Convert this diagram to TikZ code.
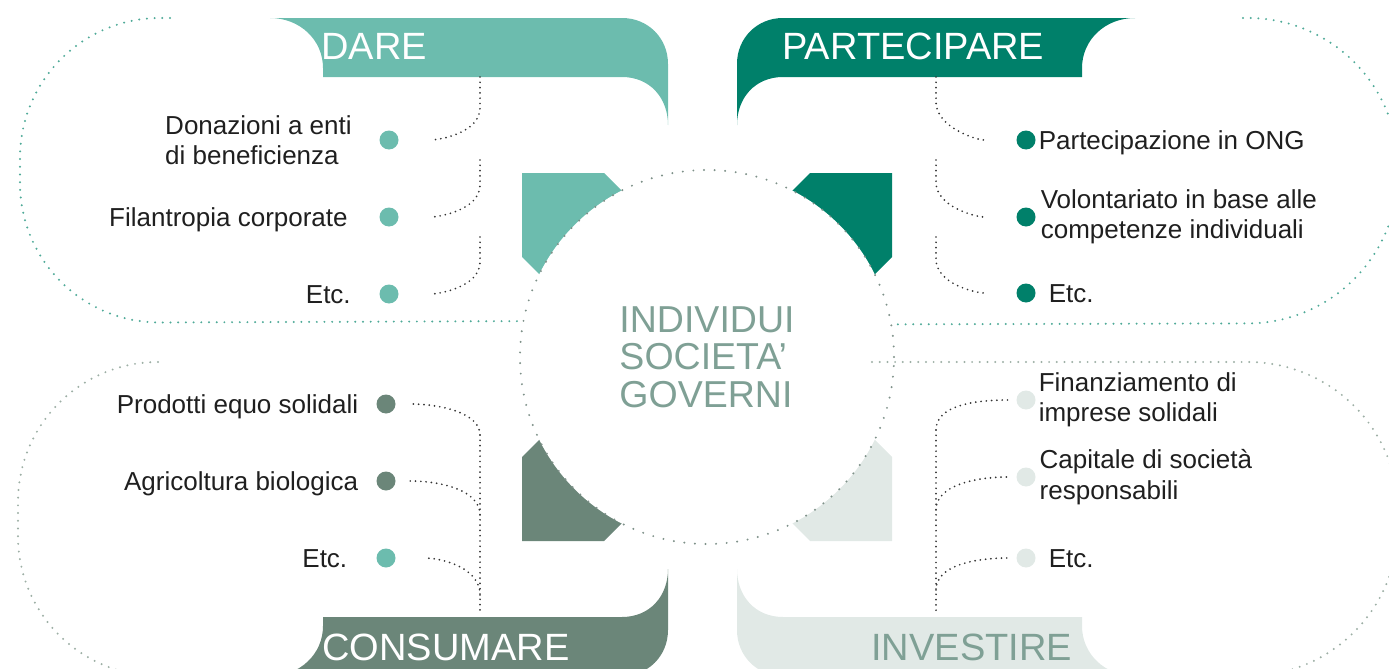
\documentclass[tikz,border=0pt]{standalone}
\usepackage{fontspec}
\setmainfont{Liberation Sans}
\usepackage{tikz}
\usetikzlibrary{positioning}
\definecolor{darec}{HTML}{6CBCAE}
\definecolor{partc}{HTML}{00806A}
\definecolor{consc}{HTML}{6B8679}
\definecolor{investc}{HTML}{E1E9E6}
\definecolor{coretextc}{HTML}{7FA095}
\definecolor{tealdotc}{HTML}{4FAA98}
\definecolor{graydotc}{HTML}{9DAFA5}
\definecolor{linkc}{HTML}{333333}
\colorlet{labelcolor}{black!88}
\definecolor{coreline}{HTML}{7E9189}
\tikzstyle{tabtitle} = [
    anchor=base west,
    inner sep=0pt,
    font=\fontsize{19pt}{19pt}\selectfont
    ]
\tikzstyle{core} = [
    circle,
    fill=white,
    draw=coreline,
    line width=1.1pt,
    dash pattern=on 0pt off 5.3pt,
    line cap=round,
    minimum size=187pt,
    inner sep=0pt,
    align=left,
    text=coretextc,
    font=\fontsize{18.75pt}{18.75pt}\selectfont
    ]
\tikzstyle{outline} = [line width=1.1pt, dash pattern=on 0pt off 3.85pt, line cap=round]
\tikzstyle{linkline} = [draw=linkc, line width=0.95pt, dash pattern=on 0pt off 2.65pt, line cap=round]
\tikzstyle{itemdot} = [circle, inner sep=0pt, minimum size=9.5pt]
\tikzstyle{itemlabel} = [inner sep=0pt, text=labelcolor, font=\fontsize{13pt}{15.25pt}\selectfont]
\tikzstyle{oneline} = [text height=9.3pt, text depth=0pt]

\begin{document}
\begin{tikzpicture}[x=0.5pt,y=-0.5pt]
\useasboundingbox (0,0) rectangle (1389,669);
\clip (0,0) rectangle (1389,669);

% corner pieces behind the core
\fill[darec] (522,173) -- (604,173) -- (664,233) -- (582,317) -- (522,257) -- cycle;
\fill[partc] (892,173) -- (810,173) -- (750,233) -- (832,317) -- (892,257) -- cycle;
\fill[consc] (522,541) -- (604,541) -- (664,481) -- (582,397) -- (522,457) -- cycle;
\fill[investc] (892,541) -- (810,541) -- (750,481) -- (832,397) -- (892,457) -- cycle;

\node[core] (core) at (707,357) {INDIVIDUI\\SOCIETA’\\GOVERNI};

% dotted frames
\draw[outline, draw=tealdotc, rounded corners=70pt] (170,18) -- (20,18) -- (20,323) -- (core.169.5);
\draw[outline, draw=tealdotc, rounded corners=75pt] (1243,18) -- (1398,18) -- (1398,323) -- (core.10.5);
\draw[outline, draw=graydotc, rounded corners=70pt] (158,362) -- (18,362) -- (18,676) -- (200,676);
\draw[outline, draw=graydotc, rounded corners=75pt] (872,362) -- (1398,362) -- (1398,676) -- (1200,676);

% tabs
\fill[darec] (270,18) -- (622,18) .. controls (648,18) and (668,38) .. (668,64) -- (668,125)
    .. controls (668,98) and (650,77) .. (622,77) -- (323,77) -- (323,68)
    .. controls (323,40) and (300,18) .. (270,18) -- cycle;
\fill[partc] (1135,18) -- (783,18) .. controls (757,18) and (737,38) .. (737,64) -- (737,125)
    .. controls (737,98) and (755,77) .. (783,77) -- (1082,77) -- (1082,68)
    .. controls (1082,40) and (1105,18) .. (1135,18) -- cycle;
\fill[consc] (270,676) -- (622,676) .. controls (648,676) and (668,656) .. (668,630) -- (668,569)
    .. controls (668,596) and (650,617) .. (622,617) -- (323,617) -- (323,626)
    .. controls (323,654) and (300,676) .. (270,676) -- cycle;
\fill[investc] (1135,676) -- (783,676) .. controls (757,676) and (737,656) .. (737,630) -- (737,569)
    .. controls (737,596) and (755,617) .. (783,617) -- (1082,617) -- (1082,626)
    .. controls (1082,654) and (1105,676) .. (1135,676) -- cycle;

\node[tabtitle, text=white] (dare) at (321,60) {DARE};
\node[tabtitle, text=white] (partecipare) at (782,60) {PARTECIPARE};
\node[tabtitle, text=white] (consumare) at (322,660) {CONSUMARE};
\node[tabtitle, text=coretextc] (investire) at (871,660) {INVESTIRE};

% DARE
\node[itemdot, fill=darec] (dare1) at (389,140) {};
\node[itemdot, fill=darec] (dare2) at (389,217) {};
\node[itemdot, fill=darec] (dare3) at (389,294) {};
\node[itemlabel, align=left, left=13.5pt of dare1] (dare1t) {Donazioni a enti\\di beneficienza};
\node[itemlabel, oneline, left=15.5pt of dare2] (dare2t) {Filantropia corporate};
\node[itemlabel, oneline, left=14pt of dare3] (dare3t) {Etc.};
\coordinate (dspine1) at (480,77);
\coordinate (dspine2) at (480,160);
\coordinate (dspine3) at (480,237);
\draw[linkline, shorten >=16pt] (dspine1) -- ++(0,31) .. controls +(0,25) and +(40,0) .. (dare1.east);
\draw[linkline, shorten >=16pt] (dspine2) -- ++(0,25) .. controls +(0,25) and +(40,0) .. (dare2.east);
\draw[linkline, shorten >=16pt] (dspine3) -- ++(0,25) .. controls +(0,25) and +(40,0) .. (dare3.east);

% PARTECIPARE
\node[itemdot, fill=partc] (part1) at (1026,140) {};
\node[itemdot, fill=partc] (part2) at (1026,217) {};
\node[itemdot, fill=partc] (part3) at (1026,293) {};
\node[itemlabel, oneline, right=1.25pt of part1] (part1t) {Partecipazione in ONG};
\node[itemlabel, align=left, right=2.25pt of part2] (part2t) {Volontariato in base alle\\competenze individuali};
\node[itemlabel, oneline, right=6.25pt of part3] (part3t) {Etc.};
\coordinate (pspine1) at (936,77);
\coordinate (pspine2) at (936,160);
\coordinate (pspine3) at (936,237);
\draw[linkline, shorten >=16pt] (pspine1) -- ++(0,25) .. controls +(0,25) and +(-40,0) .. (part1.west);
\draw[linkline, shorten >=16pt] (pspine2) -- ++(0,22) .. controls +(0,25) and +(-40,0) .. (part2.west);
\draw[linkline, shorten >=16pt] (pspine3) -- ++(0,22) .. controls +(0,25) and +(-40,0) .. (part3.west);

% CONSUMARE
\node[itemdot, fill=consc] (cons1) at (386,404) {};
\node[itemdot, fill=consc] (cons2) at (386,481) {};
\node[itemdot, fill=darec] (cons3) at (386,558) {};
\node[itemlabel, oneline, left=8.75pt of cons1] (cons1t) {Prodotti equo solidali};
\node[itemlabel, oneline, left=8.75pt of cons2] (cons2t) {Agricoltura biologica};
\node[itemlabel, oneline, left=14.25pt of cons3] (cons3t) {Etc.};
\coordinate (cspine1) at (480,435);
\coordinate (cspine2) at (480,515);
\coordinate (cspine3) at (480,595);
\coordinate (cspine4) at (480,613);
\draw[linkline] (cspine1) -- (cspine4);
\draw[linkline, shorten >=7pt] (cspine1) .. controls +(0,-22) and +(45,0) .. (cons1.east);
\draw[linkline, shorten >=7pt] (cspine2) .. controls +(0,-25) and +(45,0) .. (cons2.east);
\draw[linkline, shorten >=14pt] (cspine3) .. controls +(0,-28) and +(45,0) .. (cons3.east);

% INVESTIRE
\node[itemdot, fill=investc] (inv1) at (1026,400) {};
\node[itemdot, fill=investc] (inv2) at (1026,477) {};
\node[itemdot, fill=investc] (inv3) at (1026,558) {};
\node[itemlabel, align=left, right=1.25pt of inv1] (inv1t) {Finanziamento di\\imprese solidali};
\node[itemlabel, align=left, right=1.7pt of inv2] (inv2t) {Capitale di società\\responsabili};
\node[itemlabel, oneline, right=6.25pt of inv3] (inv3t) {Etc.};
\coordinate (ispine1) at (936,430);
\coordinate (ispine2) at (936,510);
\coordinate (ispine3) at (936,590);
\coordinate (ispine4) at (936,613);
\draw[linkline] (ispine1) -- (ispine4);
\draw[linkline, shorten >=4pt] (ispine1) .. controls +(0,-25) and +(-40,0) .. (inv1.west);
\draw[linkline, shorten >=4pt] (ispine2) .. controls +(0,-25) and +(-40,0) .. (inv2.west);
\draw[linkline, shorten >=4pt] (ispine3) .. controls +(0,-25) and +(-40,0) .. (inv3.west);
\end{tikzpicture}
\end{document}
